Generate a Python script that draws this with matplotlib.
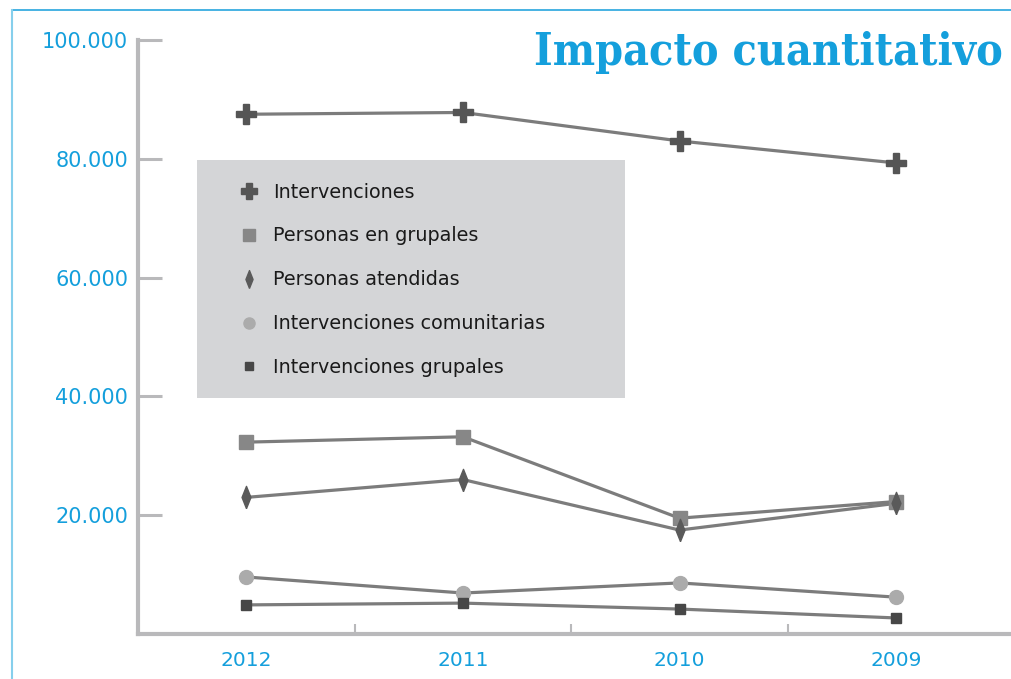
import matplotlib
matplotlib.use("Agg")
import matplotlib.pyplot as plt
from matplotlib.lines import Line2D
from matplotlib.patches import Rectangle

years = ["2012", "2011", "2010", "2009"]
series_names = ["Intervenciones", "Personas en grupales", "Personas atendidas",
                "Intervenciones comunitarias", "Intervenciones grupales"]
intervenciones = [87500, 87800, 83000, 79300]
personas_grupales = [32300, 33200, 19500, 22300]
personas_atendidas = [23000, 26000, 17500, 22000]
interv_comunitarias = [9600, 6900, 8600, 6200]
interv_grupales = [4900, 5200, 4200, 2700]
yticks = [20000, 40000, 60000, 80000, 100000]
ytick_labels = ["20.000", "40.000", "60.000", "80.000", "100.000"]
title = "Impacto cuantitativo"

BLUE = "#149fdc"
AXGRAY = "#b9b9bb"

thin_diamond = [(0, -1), (0.4, 0), (0, 1), (-0.4, 0), (0, -1)]

fig = plt.figure(figsize=(10.11, 6.79), dpi=100)
fig.patch.set_facecolor("white")
ax = fig.add_axes([138/1011, 1-634/679, 1-138/1011, (634-40)/679])
ax.set_facecolor("none")

x = [i + 0.5 for i in range(len(years))]
styles = [
    dict(marker="P", ms=15, color="#555555"),
    dict(marker="s", ms=10, color="#878787"),
    dict(marker=thin_diamond, ms=16, color="#5a5a5a"),
    dict(marker="o", ms=10, color="#ababab"),
    dict(marker="s", ms=7, color="#474747"),
]
data = [intervenciones, personas_grupales, personas_atendidas,
        interv_comunitarias, interv_grupales]
for vals, st in zip(data, styles):
    ax.plot(x, vals, color="#7c7c7c", lw=2.3, solid_capstyle="round", zorder=2)
    ax.plot(x, vals, linestyle="none", marker=st["marker"], ms=st["ms"],
            color=st["color"], mec=st["color"], zorder=3)

ax.set_xlim(0, 4.03)
ax.set_ylim(0, 100000)

for s in ["top", "right"]:
    ax.spines[s].set_visible(False)
for s in ["left", "bottom"]:
    ax.spines[s].set_color(AXGRAY)
    ax.spines[s].set_linewidth(3)

ax.set_yticks(yticks)
ax.set_yticklabels(ytick_labels)
ax.tick_params(axis="y", direction="in", length=17, width=2.2, color=AXGRAY,
               pad=7, labelsize=15, labelcolor=BLUE)
ax.set_xticks(x)
ax.set_xticklabels(years)
ax.tick_params(axis="x", which="major", length=0, pad=12, labelsize=14.5,
               labelcolor=BLUE)
ax.set_xticks([1, 2, 3], minor=True)
ax.tick_params(axis="x", which="minor", direction="in", length=7, width=1.5,
               color=AXGRAY)

# legend box
x0 = (197-138)/873
x1 = (625-138)/873
y_top = (634-160)/594
y_bot = (634-398)/594
ax.add_patch(Rectangle((x0, y_bot), x1-x0, y_top-y_bot, transform=ax.transAxes,
                       facecolor="#d4d5d7", edgecolor="none", zorder=1))
handles = [Line2D([], [], linestyle="none", marker=st["marker"],
                  ms=st["ms"]*0.8, color=st["color"]) for st in styles]
leg = ax.legend(handles, series_names, loc="upper left",
                bbox_to_anchor=(x0 + 0.04, y_top - 0.025), frameon=False,
                fontsize=13.8, labelspacing=1.3, handletextpad=0.75,
                handlelength=1.0, borderaxespad=0)
for t in leg.get_texts():
    t.set_color("#1a1a1a")

fig.text(1003/1011, 1-52/679, title, ha="right", va="center",
         fontsize=32, fontweight="bold", family="DejaVu Serif",
         fontstretch="condensed", color=BLUE)

# page border lines
fig.add_artist(Line2D([12/1011, 1], [1-10/679, 1-10/679], color="#28a6de",
                      lw=1.2, transform=fig.transFigure))
fig.add_artist(Line2D([12/1011, 12/1011], [0, 1-10/679], color="#86cfec",
                      lw=1.5, transform=fig.transFigure))

fig.savefig("out.png", dpi=100)
